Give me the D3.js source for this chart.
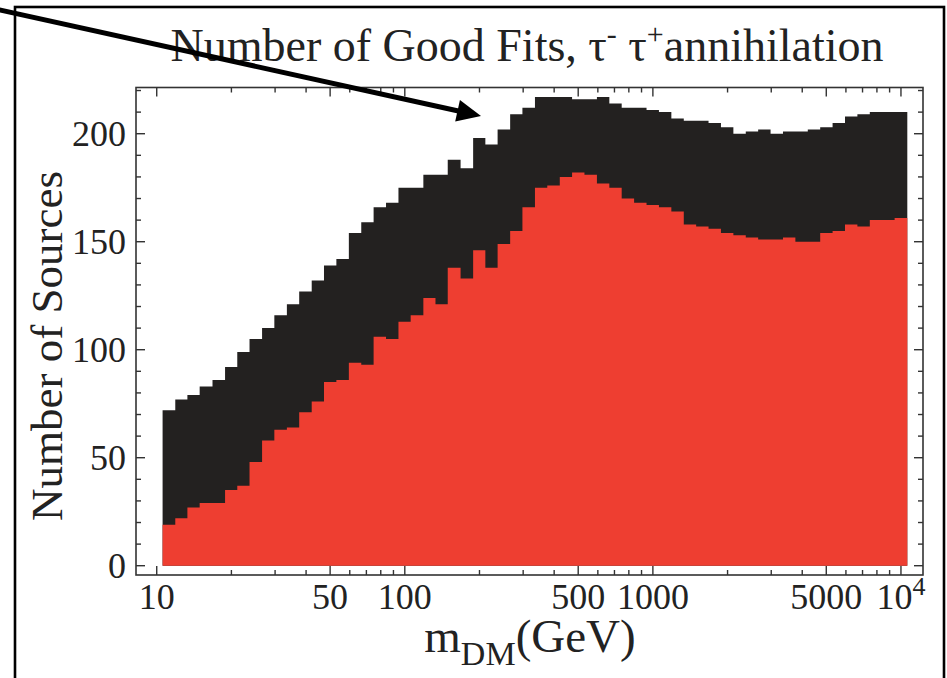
<!DOCTYPE html>
<meta charset="utf-8">
<style>
    body { margin: 0; background: #fff; }
    text { font-family: "Liberation Serif", "DejaVu Serif", serif; fill: #222; }
    .frame { fill: none; stroke: #333; stroke-width: 1.6px; }
    .tick { stroke: #333; stroke-width: 1.4px; }
</style>
<svg id="svg" width="947" height="678"></svg>
<script src="https://d3js.org/d3.v7.min.js"></script>
<script>

// bin centres, m_DM in GeV (60 log bins)
var masses = [11.2, 12.6, 14.1, 15.8, 17.8, 20.0, 22.4, 25.1, 28.2, 31.6,
              35.5, 39.8, 44.7, 50.1, 56.2, 63.1, 70.8, 79.4, 89.1, 100,
              112, 126, 141, 158, 178, 200, 224, 251, 282, 316,
              355, 398, 447, 501, 562, 631, 708, 794, 891, 1000,
              1122, 1259, 1413, 1585, 1778, 1995, 2239, 2512, 2818, 3162,
              3548, 3981, 4467, 5012, 5623, 6310, 7079, 7943, 8913, 10000];

// black histogram (all good fits)
var allFits = [72, 77, 79, 83, 86, 92, 99, 105, 110, 116,
               121, 127, 132, 139, 142, 154, 159, 166, 168, 175,
               175, 181, 181, 188, 184, 198, 195, 202, 209, 212,
               217, 217, 217, 216, 216, 217, 214, 212, 212, 211,
               210, 207, 206, 206, 205, 203, 200, 201, 202, 200,
               201, 201, 202, 203, 205, 208, 209, 210, 210, 210];

// red histogram
var redFits = [19, 22, 27, 29, 29, 35, 37, 48, 58, 63,
               64, 71, 76, 85, 86, 94, 93, 106, 105, 113,
               116, 124, 121, 138, 133, 146, 138, 149, 155, 166,
               175, 176, 180, 182, 181, 177, 175, 170, 168, 167,
               166, 164, 158, 157, 156, 154, 153, 152, 151, 151,
               152, 150, 150, 154, 155, 158, 157, 160, 160, 161];

var xMajor = [10, 50, 100, 500, 1000, 5000, 10000];
var xMinor = [20, 30, 40, 60, 70, 80, 90, 200, 300, 400, 600, 700, 800, 900,
              2000, 3000, 4000, 6000, 7000, 8000, 9000];
var yMajor = [0, 50, 100, 150, 200];
var yMinor = [10, 20, 30, 40, 60, 70, 80, 90, 110, 120, 130, 140, 160, 170, 180, 190, 210, 220];

var svg = d3.select("svg");

var pLeft = 136, pRight = 923, pTop = 87.5, pBottom = 575;

var x = d3.scaleLog()
    .domain([8.25, 12270])
    .range([pLeft, pRight]);

var y = d3.scaleLinear()
    .domain([-4.3, 221.4])
    .range([pBottom, pTop]);

// bin edges (geometric midpoints)
var half = Math.sqrt(masses[1] / masses[0]);
var edges = masses.map(function(m) { return m / half; });
edges.push(masses[masses.length - 1] * half);

function steps(vals) {
  var pts = vals.map(function(v, i) { return [edges[i], v]; });
  pts.push([edges[edges.length - 1], vals[vals.length - 1]]);
  return pts;
}

var area = d3.area()
    .curve(d3.curveStepAfter)
    .x(function(d) { return x(d[0]); })
    .y0(y(0))
    .y1(function(d) { return y(d[1]); });

svg.append("path").attr("d", area(steps(allFits))).attr("fill", "#232120");
svg.append("path").attr("d", area(steps(redFits))).attr("fill", "#ee3e31");

// frame
svg.append("rect").attr("class", "frame")
    .attr("x", pLeft).attr("y", pTop)
    .attr("width", pRight - pLeft).attr("height", pBottom - pTop);

var ticks = svg.append("g");
function xtick(v, len) {
  ticks.append("line").attr("class", "tick")
      .attr("x1", x(v)).attr("x2", x(v)).attr("y1", pBottom).attr("y2", pBottom - len);
  ticks.append("line").attr("class", "tick")
      .attr("x1", x(v)).attr("x2", x(v)).attr("y1", pTop).attr("y2", pTop + len);
}
function ytick(v, len) {
  ticks.append("line").attr("class", "tick")
      .attr("x1", pLeft).attr("x2", pLeft + len).attr("y1", y(v)).attr("y2", y(v));
  ticks.append("line").attr("class", "tick")
      .attr("x1", pRight).attr("x2", pRight - len).attr("y1", y(v)).attr("y2", y(v));
}
xMajor.forEach(function(v) { xtick(v, 9); });
xMinor.forEach(function(v) { xtick(v, 5); });
yMajor.forEach(function(v) { ytick(v, 9); });
yMinor.forEach(function(v) { ytick(v, 5); });

// tick labels
xMajor.forEach(function(v) {
  var t = svg.append("text")
      .attr("x", x(v)).attr("y", 609)
      .attr("text-anchor", "middle")
      .style("font-size", "36px");
  if (v === 10000) {
    t.append("tspan").text("10");
    t.append("tspan").attr("dy", -14).style("font-size", "26px").text("4");
  } else {
    t.text(v);
  }
});

yMajor.forEach(function(v) {
  svg.append("text")
      .attr("x", 126).attr("y", y(v) + 12)
      .attr("text-anchor", "end")
      .style("font-size", "36px")
      .text(v);
});

// axis labels
svg.append("text")
    .attr("transform", "translate(62,346) rotate(-90)")
    .attr("text-anchor", "middle")
    .style("font-size", "45px")
    .text("Number of Sources");

var xl = svg.append("text")
    .attr("x", 530).attr("y", 652)
    .attr("text-anchor", "middle")
    .style("font-size", "47px");
xl.append("tspan").text("m");
xl.append("tspan").attr("dy", 13).style("font-size", "34px").text("DM");
xl.append("tspan").attr("dy", -13).text("(GeV)");

// title
var title = svg.append("text")
    .attr("x", 527).attr("y", 61)
    .attr("text-anchor", "middle")
    .style("font-size", "46px");
title.append("tspan").text("Number of Good Fits, \u03c4");
title.append("tspan").attr("dy", -17).style("font-size", "30px").text("-");
title.append("tspan").attr("dy", 17).text(" \u03c4");
title.append("tspan").attr("dy", -17).style("font-size", "30px").text("+");
title.append("tspan").attr("dy", 17).text("annihilation");

// outer border of the figure
svg.append("rect")
    .attr("x", 15).attr("y", 7).attr("width", 929).attr("height", 700)
    .attr("fill", "none").attr("stroke", "#000").attr("stroke-width", 2.6);

// annotation arrow
var a0 = [-2, 9.5], a1 = [481, 116];
var dx = a1[0] - a0[0], dy = a1[1] - a0[1], L = Math.sqrt(dx * dx + dy * dy);
var ux = dx / L, uy = dy / L, hl = 24, hw = 11;
var bx = a1[0] - ux * hl, by = a1[1] - uy * hl;
svg.append("line")
    .attr("x1", a0[0]).attr("y1", a0[1]).attr("x2", bx + ux * 2).attr("y2", by + uy * 2)
    .attr("stroke", "#000").attr("stroke-width", 5);
svg.append("path")
    .attr("d", "M" + a1[0] + "," + a1[1] +
               "L" + (bx - uy * hw) + "," + (by + ux * hw) +
               "L" + (bx + uy * hw) + "," + (by - ux * hw) + "Z")
    .attr("fill", "#000");

</script>
